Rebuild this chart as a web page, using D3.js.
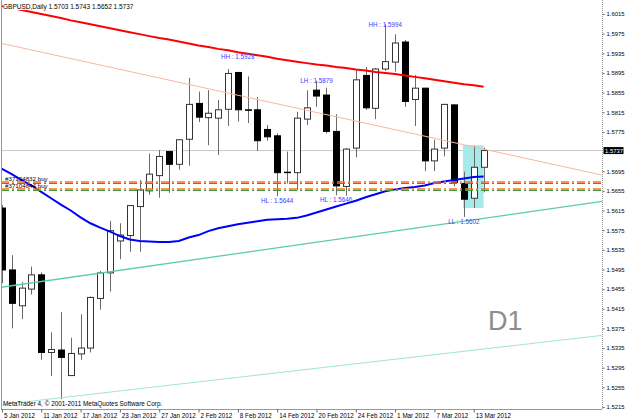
<!DOCTYPE html>
<html><head><meta charset="utf-8">
<script src="https://cdn.jsdelivr.net/npm/d3@7"></script>
<style>html,body{margin:0;padding:0;background:#fff;}svg{display:block;}</style>
</head><body>
<svg id="c" width="625" height="420"></svg>
<script>
// ---------- data ----------
const dates = ["5 Jan 2012","6 Jan 2012","9 Jan 2012","10 Jan 2012","11 Jan 2012","12 Jan 2012","13 Jan 2012","16 Jan 2012","17 Jan 2012","18 Jan 2012","19 Jan 2012","20 Jan 2012","23 Jan 2012","24 Jan 2012","25 Jan 2012","26 Jan 2012","27 Jan 2012","30 Jan 2012","31 Jan 2012","1 Feb 2012","2 Feb 2012","3 Feb 2012","6 Feb 2012","7 Feb 2012","8 Feb 2012","9 Feb 2012","10 Feb 2012","13 Feb 2012","14 Feb 2012","15 Feb 2012","16 Feb 2012","17 Feb 2012","20 Feb 2012","21 Feb 2012","22 Feb 2012","23 Feb 2012","24 Feb 2012","27 Feb 2012","28 Feb 2012","29 Feb 2012","1 Mar 2012","2 Mar 2012","5 Mar 2012","6 Mar 2012","7 Mar 2012","8 Mar 2012","9 Mar 2012","12 Mar 2012","13 Mar 2012","14 Mar 2012"];
const open  = [1.5620,1.5494,1.5421,1.5455,1.5484,1.5326,1.5331,1.5279,1.5323,1.5335,1.5436,1.5488,1.5553,1.5564,1.5623,1.5655,1.5686,1.5735,1.5709,1.5760,1.5833,1.5804,1.5803,1.5821,1.5896,1.5820,1.5820,1.5780,1.5767,1.5693,1.5692,1.5801,1.5860,1.5850,1.5776,1.5664,1.5742,1.5890,1.5823,1.5903,1.5917,1.5958,1.5841,1.5864,1.5716,1.5742,1.5830,1.5670,1.5640,1.5703];
const high  = [1.5626,1.5524,1.5469,1.5501,1.5489,1.5367,1.5408,1.5356,1.5404,1.5440,1.5492,1.5594,1.5589,1.5626,1.5677,1.5731,1.5738,1.5736,1.5760,1.5885,1.5857,1.5860,1.5840,1.5903,1.5897,1.5888,1.5846,1.5789,1.5772,1.5735,1.5816,1.5860,1.5879,1.5865,1.5811,1.5742,1.5901,1.5907,1.5905,1.5994,1.5974,1.5962,1.5891,1.5865,1.5759,1.5832,1.5831,1.5694,1.5746,1.5743];
const low   = [1.5467,1.5375,1.5394,1.5444,1.5311,1.5278,1.5231,1.5278,1.5311,1.5326,1.5413,1.5450,1.5516,1.5531,1.5531,1.5647,1.5641,1.5651,1.5698,1.5706,1.5795,1.5748,1.5728,1.5787,1.5796,1.5793,1.5736,1.5757,1.5644,1.5670,1.5657,1.5789,1.5826,1.5772,1.5646,1.5645,1.5723,1.5820,1.5801,1.5899,1.5898,1.5826,1.5787,1.5695,1.5695,1.5725,1.5664,1.5602,1.5620,1.5652];
const close = [1.5494,1.5426,1.5457,1.5484,1.5326,1.5332,1.5316,1.5324,1.5335,1.5438,1.5488,1.5574,1.5565,1.5625,1.5657,1.5689,1.5725,1.5709,1.5759,1.5831,1.5805,1.5813,1.5820,1.5894,1.5820,1.5819,1.5757,1.5765,1.5692,1.5692,1.5803,1.5824,1.5848,1.5776,1.5665,1.5740,1.5881,1.5824,1.5903,1.5918,1.5956,1.5837,1.5864,1.5716,1.5740,1.5831,1.5672,1.5638,1.5703,1.5737];
const maSlow = [1.6031,1.6027,1.6023,1.6019,1.6015,1.6011,1.6007,1.6002,1.5998,1.5994,1.5990,1.5986,1.5982,1.5978,1.5974,1.5970,1.5966,1.5963,1.5959,1.5955,1.5951,1.5948,1.5944,1.5941,1.5937,1.5934,1.5931,1.5928,1.5924,1.5921,1.5918,1.5915,1.5912,1.5910,1.5907,1.5905,1.5902,1.5900,1.5897,1.5895,1.5893,1.5890,1.5887,1.5884,1.5881,1.5878,1.5875,1.5872,1.5870,1.5867];
const maFast = [1.5701,1.5689,1.5677,1.5666,1.5653,1.5640,1.5627,1.5615,1.5601,1.5589,1.5580,1.5572,1.5563,1.5556,1.5553,1.5552,1.5551,1.5551,1.5553,1.5560,1.5565,1.5573,1.5579,1.5583,1.5587,1.5590,1.5593,1.5596,1.5597,1.5598,1.5600,1.5605,1.5611,1.5617,1.5623,1.5629,1.5635,1.5642,1.5648,1.5654,1.5658,1.5661,1.5663,1.5666,1.5671,1.5674,1.5677,1.5680,1.5683,1.5684];
const xTickIdx = [0,4,8,12,16,20,24,28,32,36,40,44,48];
const yTickLabels = [1.5215,1.5255,1.5295,1.5335,1.5375,1.5415,1.5455,1.5495,1.5535,1.5575,1.5615,1.5655,1.5695,1.5775,1.5815,1.5855,1.5895,1.5935,1.5975,1.6015];
// trend lines: two anchors [bar index, price]
const trendUpper = [[0,1.5955],[49,1.5740]];
const trendMid   = [[0,1.5459],[49,1.5599]];
const trendLow   = [[0,1.5220],[49,1.5333]];
const orderLevels = [1.5672,1.5659];
const orderNames = ["#37104832 buy","#37104844 buy"];
const zzIdx   = [24,39,32,28,34,47];
const zzVal   = [1.5928,1.5994,1.5879,1.5644,1.5646,1.5602];
const zzName  = ["HH","HH","LH","HL","HL","LL"];
const boxIdx = [46.9,49];
const boxPrice = [1.5748,1.5620];

// ---------- layout ----------
const PL=1, PR=602, PT=0, PB=409;
const x = d3.scaleLinear().domain([0,49]).range([1.9,483.6]);
const y = d3.scaleLinear().domain([1.5215,1.6015]).range([407,14]);
const FONT = "'Liberation Sans', Arial, sans-serif";

const svg = d3.select("#c");
svg.append("rect").attr("width",625).attr("height",420).attr("fill","#fff");
svg.append("defs").append("clipPath").attr("id","clip")
  .append("rect").attr("x",PL).attr("y",PT).attr("width",PR-PL).attr("height",PB-PT);
const g = svg.append("g").attr("clip-path","url(#clip)");

// bid line
g.append("line").attr("x1",PL).attr("x2",PR).attr("y1",y(close[49])).attr("y2",y(close[49]))
  .attr("stroke","#c8c8c8").attr("stroke-width",1);

// rectangle (background object)
g.append("rect").attr("x",x(boxIdx[0])).attr("y",y(boxPrice[0]))
  .attr("width",x(boxIdx[1])-x(boxIdx[0])).attr("height",y(boxPrice[1])-y(boxPrice[0]))
  .attr("fill","#a6eaea");

// candles
const idx = d3.range(dates.length);
const bw = 6;
g.append("g").selectAll("line").data(idx).join("line")
  .attr("x1",i=>Math.round(x(i))+0.5).attr("x2",i=>Math.round(x(i))+0.5)
  .attr("y1",i=>y(high[i])).attr("y2",i=>y(low[i]))
  .attr("stroke","#6a6a6a").attr("stroke-width",1);
g.append("g").selectAll("rect").data(idx).join("rect")
  .attr("x",i=>Math.round(x(i))-bw/2+0.5)
  .attr("y",i=>y(Math.max(open[i],close[i])))
  .attr("width",bw)
  .attr("height",i=>Math.max(0.5,Math.abs(y(open[i])-y(close[i]))))
  .attr("fill",i=>close[i]>=open[i]?"#fff":"#000")
  .attr("stroke",i=>close[i]>=open[i]?"#333":"#000").attr("stroke-width",1);

// trend lines
const tl = d3.line().x(d=>x(d[0])).y(d=>y(d[1]));
function extend(a){
  const i0=x.invert(PL), i1=x.invert(PR);
  const s=(a[1][1]-a[0][1])/(a[1][0]-a[0][0]);
  return [[i0,a[0][1]+s*(i0-a[0][0])],[i1,a[0][1]+s*(i1-a[0][0])]];
}
g.append("path").attr("d",tl(extend(trendUpper))).attr("fill","none").attr("stroke","#f9b7a0").attr("stroke-width",1);
g.append("path").attr("d",tl(extend(trendMid))).attr("fill","none").attr("stroke","#5ccf9f").attr("stroke-width",1.3);
g.append("path").attr("d",tl(extend(trendLow))).attr("fill","none").attr("stroke","#9fe6d2").attr("stroke-width",1);

// moving averages
const ml = d3.line().x((d,i)=>x(i)).y(d=>y(d));
g.append("path").attr("d",ml(maSlow)).attr("fill","none").attr("stroke","#ff0000").attr("stroke-width",2);
const blueLine = d3.line().x((d,i)=>i===0?PL:x(i)).y(d=>y(d));
g.append("path").attr("d",blueLine(maFast)).attr("fill","none").attr("stroke","#0000ff").attr("stroke-width",2);

// order levels (dash-dot)
orderLevels.forEach((p,k)=>{
  const yy=Math.round(y(p));
  g.append("line").attr("x1",PL).attr("x2",PR).attr("y1",yy+1.5).attr("y2",yy+1.5)
    .attr("stroke","#3a9a3a").attr("stroke-width",1).attr("stroke-dasharray","8,3,2,3");
  g.append("line").attr("x1",PL).attr("x2",PR).attr("y1",yy).attr("y2",yy)
    .attr("stroke","#ff6a2a").attr("stroke-width",1.5).attr("stroke-dasharray","8,3,2,3");
  g.append("text").attr("x",5).attr("y",yy-1.5).text(orderNames[k])
    .attr("font-family",FONT).attr("font-size",6.2).attr("fill","#000");
});

// zigzag labels
zzIdx.forEach((i,k)=>{
  const lowLbl = zzName[k]==="LL" || zzName[k]==="HL";
  g.append("text").attr("x",x(i)).attr("y",y(zzVal[k])+(lowLbl?5:0))
    .attr("dy","0.35em").attr("text-anchor","middle")
    .attr("font-family",FONT).attr("font-size",6.3).attr("fill","#3c3cff")
    .text(zzName[k]+" : "+zzVal[k].toFixed(4));
});

// D1 label
g.append("text").attr("x",488).attr("y",330).text("D1")
  .attr("font-family",FONT).attr("font-size",27).attr("fill","#8c8c8c");

// header
const hdr = g.append("g");
hdr.append("rect").attr("x",3).attr("y",2).attr("width",42).attr("height",8).attr("fill","#fff");
hdr.append("text").attr("x",3).attr("y",8.5).attr("font-family",FONT).attr("font-size",6.5).attr("fill","#000")
  .text("GBPUSD,Daily  "+[open[49],high[49],low[49],close[49]].map(v=>v.toFixed(4)).join(" "));

// footer copyright
g.append("text").attr("x",3).attr("y",406).attr("font-family",FONT).attr("font-size",6.4).attr("fill","#000")
  .text("MetaTrader 4, © 2001-2011 MetaQuotes Software Corp.");

// frame
svg.append("line").attr("x1",PL+0.5).attr("x2",PL+0.5).attr("y1",PT).attr("y2",PB).attr("stroke","#999");
svg.append("line").attr("x1",PL).attr("x2",PR).attr("y1",PB+0.5).attr("y2",PB+0.5).attr("stroke","#999");
svg.append("line").attr("x1",PR+0.5).attr("x2",PR+0.5).attr("y1",PT).attr("y2",PB).attr("stroke","#999").attr("stroke-dasharray","1,1");

// right axis
const ya = svg.append("g").attr("transform",`translate(${PR+0.5},0)`)
  .call(d3.axisRight(y).tickValues(yTickLabels).tickFormat(d3.format(".4f")).tickSize(2).tickPadding(2));
ya.select(".domain").remove();
ya.selectAll("line").attr("stroke","#666");
ya.selectAll("text").attr("font-family",FONT).attr("font-size",5.9).attr("fill","#000");

// bottom axis
const xa = svg.append("g").attr("transform",`translate(0,${PB+0.5})`)
  .call(d3.axisBottom(x).tickValues(xTickIdx).tickFormat(i=>dates[i]).tickSize(3).tickPadding(1));
xa.select(".domain").remove();
xa.selectAll("line").attr("stroke","#666");
xa.selectAll("text").attr("text-anchor","start").attr("dx",1.5)
  .attr("font-family",FONT).attr("font-size",6.3).attr("fill","#000");

// current price marker
const yc = y(close[49]);
svg.append("rect").attr("x",603.5).attr("y",yc-3.5).attr("width",20).attr("height",7).attr("fill","#000");
svg.append("text").attr("x",605).attr("y",yc).attr("dy","0.35em").attr("font-family",FONT)
  .attr("font-size",5.9).attr("fill","#fff").text(close[49].toFixed(4));
</script>
</body></html>
